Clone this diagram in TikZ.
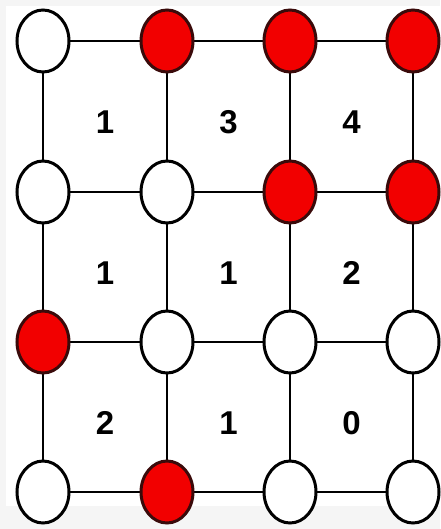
\documentclass[tikz,border=0pt]{standalone}
\usepackage{fontspec}
\setmainfont{Liberation Sans}
\usepackage{tikz}
\usetikzlibrary{shapes.geometric, calc}
\definecolor{gridred}{HTML}{F20000}
\definecolor{gridedge}{HTML}{3A0A0A}

\begin{document}
\begin{tikzpicture}[
  x=1pt, y=-1pt,
  dot/.style={draw, ellipse, line width=3pt, minimum width=52pt,
              minimum height=62pt, inner sep=0pt, fill=white},
  hot/.style={dot, fill=gridred, draw=gridedge},
  link/.style={line width=2pt, black},
  count/.style={inner sep=0pt, anchor=center,
                font=\fontsize{33}{33}\selectfont\bfseries}
]

% Background
\fill[black!4] (0,0) rectangle (440,529);
\fill[white] (6,6) rectangle (440,506);
\useasboundingbox (0,0) rectangle (440,529);

% Edges first, then the dots on top
\foreach \c/\x in {1/43,2/167,3/290,4/413}
  \foreach \r/\y in {1/41,2/192,3/342,4/492}
    \coordinate (p\r\c) at (\x,\y);

\foreach \r in {1,...,4}
  \foreach \c/\d in {1/2,2/3,3/4}
    \draw[link] (p\r\c) -- (p\r\d);
\foreach \c in {1,...,4}
  \foreach \r/\s in {1/2,2/3,3/4}
    \draw[link] (p\r\c) -- (p\s\c);

% Dots (hot = red)
\foreach \r/\row in {1/{dot,hot,hot,hot},2/{dot,dot,hot,hot},
                     3/{hot,dot,dot,dot},4/{dot,hot,dot,dot}}
  \foreach \k [count=\c] in \row
    \node[\k] (n\r\c) at (p\r\c) {};

% Cell counts
\foreach \r/\s/\row in {1/2/{1,3,4},2/3/{1,1,2},3/4/{2,1,0}}
  \foreach \v [count=\c] in \row {
    \pgfmathtruncatemacro{\d}{\c+1}
    \node[count] (v\r\c) at ($(p\r\c)!0.5!(p\s\d)+(0,6)$) {\v};
  }

\end{tikzpicture}
\end{document}
